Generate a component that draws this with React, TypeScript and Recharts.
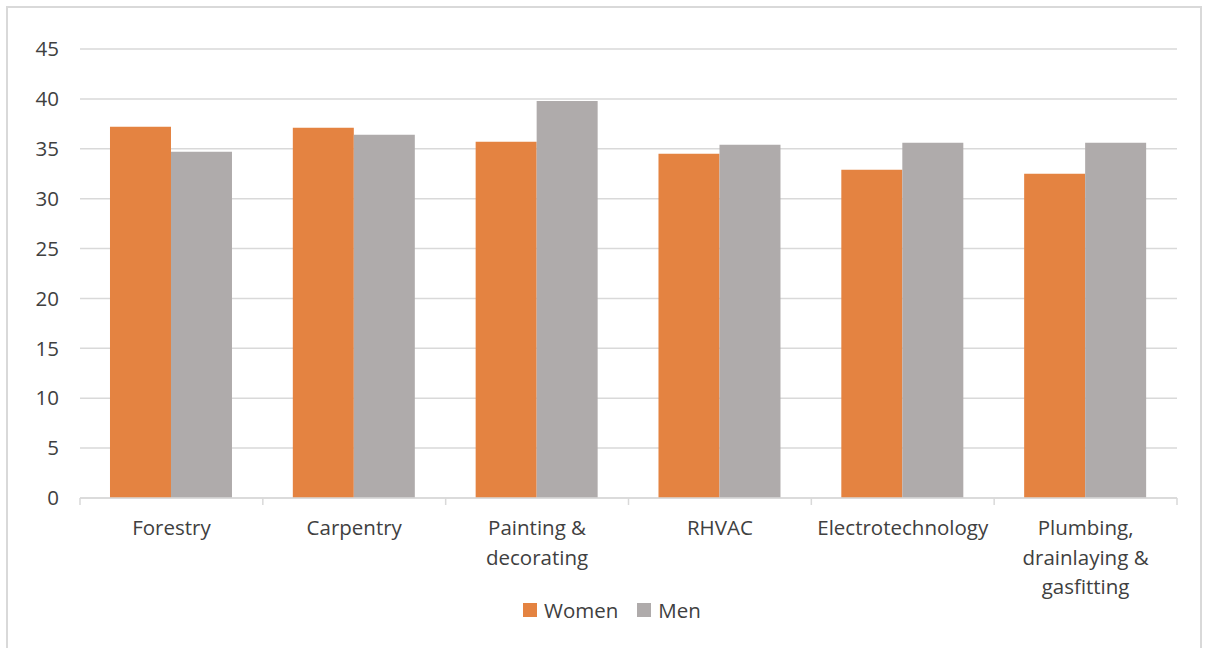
import React from "react";
import { BarChart, Bar, XAxis, YAxis, CartesianGrid, Legend } from "recharts";

const categories = [
  "Forestry",
  "Carpentry",
  "Painting & decorating",
  "RHVAC",
  "Electrotechnology",
  "Plumbing, drainlaying & gasfitting",
];
const women = [37.2, 37.1, 35.7, 34.5, 32.9, 32.5];
const men = [34.7, 36.4, 39.8, 35.4, 35.6, 35.6];
const yTicks = [0, 5, 10, 15, 20, 25, 30, 35, 40, 45];
const seriesNames = ["Women", "Men"];
const seriesColors = ["#E48341", "#AFABAB"];

const data = categories.map((c, i) => ({ name: c, Women: women[i], Men: men[i] }));

const FONT = "'Open Sans', 'Liberation Sans', sans-serif";
const TEXT = "#404040";
const GRID = "#D9D9D9";

function wrap(label: string, max: number): string[] {
  const words = label.split(" ");
  const lines: string[] = [];
  let cur = "";
  for (const w of words) {
    const next = cur ? cur + " " + w : w;
    if (next.length > max && cur) {
      lines.push(cur);
      cur = w;
    } else cur = next;
  }
  if (cur) lines.push(cur);
  return lines;
}

const XTick = (props: any) => {
  const { x, y, payload, index, visibleTicksCount } = props;
  const half = payload.offset ?? 0;
  const lines = wrap(String(payload.value), 14);
  const axisY = y - 8;
  return (
    <g>
      <line x1={x - half} x2={x - half} y1={axisY} y2={axisY + 7} stroke={GRID} strokeWidth={1.5} />
      {index === visibleTicksCount - 1 && (
        <line x1={x + half} x2={x + half} y1={axisY} y2={axisY + 7} stroke={GRID} strokeWidth={1.5} />
      )}
      <text x={x} y={axisY} textAnchor="middle" fill={TEXT} fontFamily={FONT} fontSize={20.5}>
        {lines.map((l, i) => (
          <tspan key={i} x={x} dy={i === 0 ? 37 : 29.5}>
            {l}
          </tspan>
        ))}
      </text>
    </g>
  );
};

const LegendContent = () => (
  <div style={{ display: "flex", alignItems: "center", fontFamily: FONT, fontSize: 20.5, color: TEXT }}>
    {seriesNames.map((n, i) => (
      <div key={n} style={{ display: "flex", alignItems: "center", marginRight: 19 }}>
        <div style={{ width: 14, height: 14, background: seriesColors[i], marginRight: 7 }} />
        <span>{n}</span>
      </div>
    ))}
  </div>
);

export default function App() {
  return (
    <div style={{ position: "absolute", left: 0, top: 0, width: 1205, height: 648, background: "#fff", overflow: "hidden" }}>
      <div
        style={{
          position: "absolute",
          left: 6,
          top: 6,
          width: 1196,
          height: 700,
          border: "2px solid #D9D9D9",
          boxSizing: "border-box",
        }}
      />
      <div style={{ position: "absolute", left: 0, top: 0 }}>
        <BarChart
          width={1205}
          height={648}
          data={data}
          margin={{ top: 49, right: 28, bottom: 0, left: 0 }}
          barCategoryGap="16.4%"
          barGap={0}
        >
          <CartesianGrid vertical={false} stroke={GRID} strokeWidth={1.5} />
          <XAxis
            dataKey="name"
            tick={<XTick />}
            tickLine={false}
            axisLine={{ stroke: GRID, strokeWidth: 1.5 }}
            interval={0}
            height={122}
          />
          <YAxis
            domain={[0, 45]}
            ticks={yTicks}
            width={80}
            axisLine={false}
            tickLine={false}
            tickMargin={15}
            tick={{ fill: TEXT, fontFamily: FONT, fontSize: 20.5 }}
            interval={0}
          />
          <Legend
            content={<LegendContent />}
            wrapperStyle={{ left: 523, top: 596, width: "auto", bottom: "auto" }}
          />
          <Bar dataKey="Women" fill={seriesColors[0]} isAnimationActive={false} />
          <Bar dataKey="Men" fill={seriesColors[1]} isAnimationActive={false} />
        </BarChart>
      </div>
    </div>
  );
}
